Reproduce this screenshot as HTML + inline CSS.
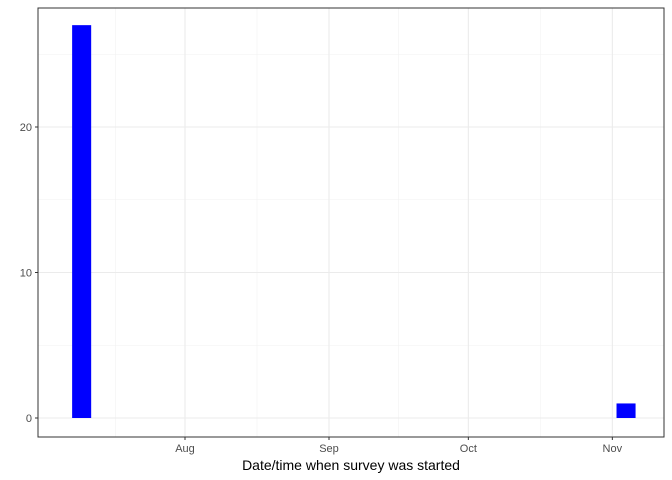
<!DOCTYPE html>
<html><head><meta charset="utf-8"><style>
body{margin:0;background:#fff}
svg{display:block;font-family:"Liberation Sans",sans-serif}
</style></head><body>
<svg id="chart" width="672" height="480"></svg>
<script>
// Data: bin start (days relative to Aug 1), counts
const binStarts = [-24.3, 92.9];
const binCounts = [27, 1];
const binWidth = 4.1;
const xTickLabels = ["Aug","Sep","Oct","Nov"];
const xTickDays = [0, 31, 61, 92];
const xMinorDays = [-15, 15.5, 46, 76.5];
const yTicks = [0, 10, 20];
const yMinor = [5, 15, 25];

const NS="http://www.w3.org/2000/svg";
const svg=document.getElementById('chart');
const L=38,R=664,T=8,B=437;
const x=d=>185+d*4.645;
const y=v=>418-v*14.55;
function mk(tag,attrs,parent){const e=document.createElementNS(NS,tag);for(const k in attrs)e.setAttribute(k,attrs[k]);(parent||svg).appendChild(e);return e;}

const grid=mk('g',{});


xMinorDays.forEach(d=>mk('line',{x1:x(d),x2:x(d),y1:T,y2:B,stroke:'#f2f2f2','stroke-width':0.6},grid));
yMinor.forEach(v=>mk('line',{x1:L,x2:R,y1:y(v),y2:y(v),stroke:'#f2f2f2','stroke-width':0.6},grid));
xTickDays.forEach(d=>mk('line',{x1:x(d),x2:x(d),y1:T,y2:B,stroke:'#ebebeb','stroke-width':1.1},grid));
yTicks.forEach(v=>mk('line',{x1:L,x2:R,y1:y(v),y2:y(v),stroke:'#ebebeb','stroke-width':1.1},grid));

binStarts.forEach((s,i)=>{
  const r=mk('rect',{x:x(s),y:y(binCounts[i]),width:x(s+binWidth)-x(s),height:y(0)-y(binCounts[i]),fill:'#0000ff'});
  
  
});

const frame=mk('rect',{x:L,y:T,width:R-L,height:B-T,fill:'none',stroke:'#333','stroke-width':1});



yTicks.forEach(v=>{
  mk('line',{x1:L-3,x2:L,y1:y(v),y2:y(v),stroke:'#333'});
  const t=mk('text',{x:L-6,y:y(v)+4,'text-anchor':'end','font-size':11,fill:'#4d4d4d'});
  t.textContent=v;
  
  
});
xTickDays.forEach((d,i)=>{
  mk('line',{x1:x(d),x2:x(d),y1:B,y2:B+3,stroke:'#333'});
  const t=mk('text',{x:x(d),y:B+15,'text-anchor':'middle','font-size':11,fill:'#4d4d4d'});
  t.textContent=xTickLabels[i];
  
  
});
const title=mk('text',{x:351,y:470,'text-anchor':'middle','font-size':14,fill:'#000'});
title.textContent='Date/time when survey was started';


</script>
</body></html>
